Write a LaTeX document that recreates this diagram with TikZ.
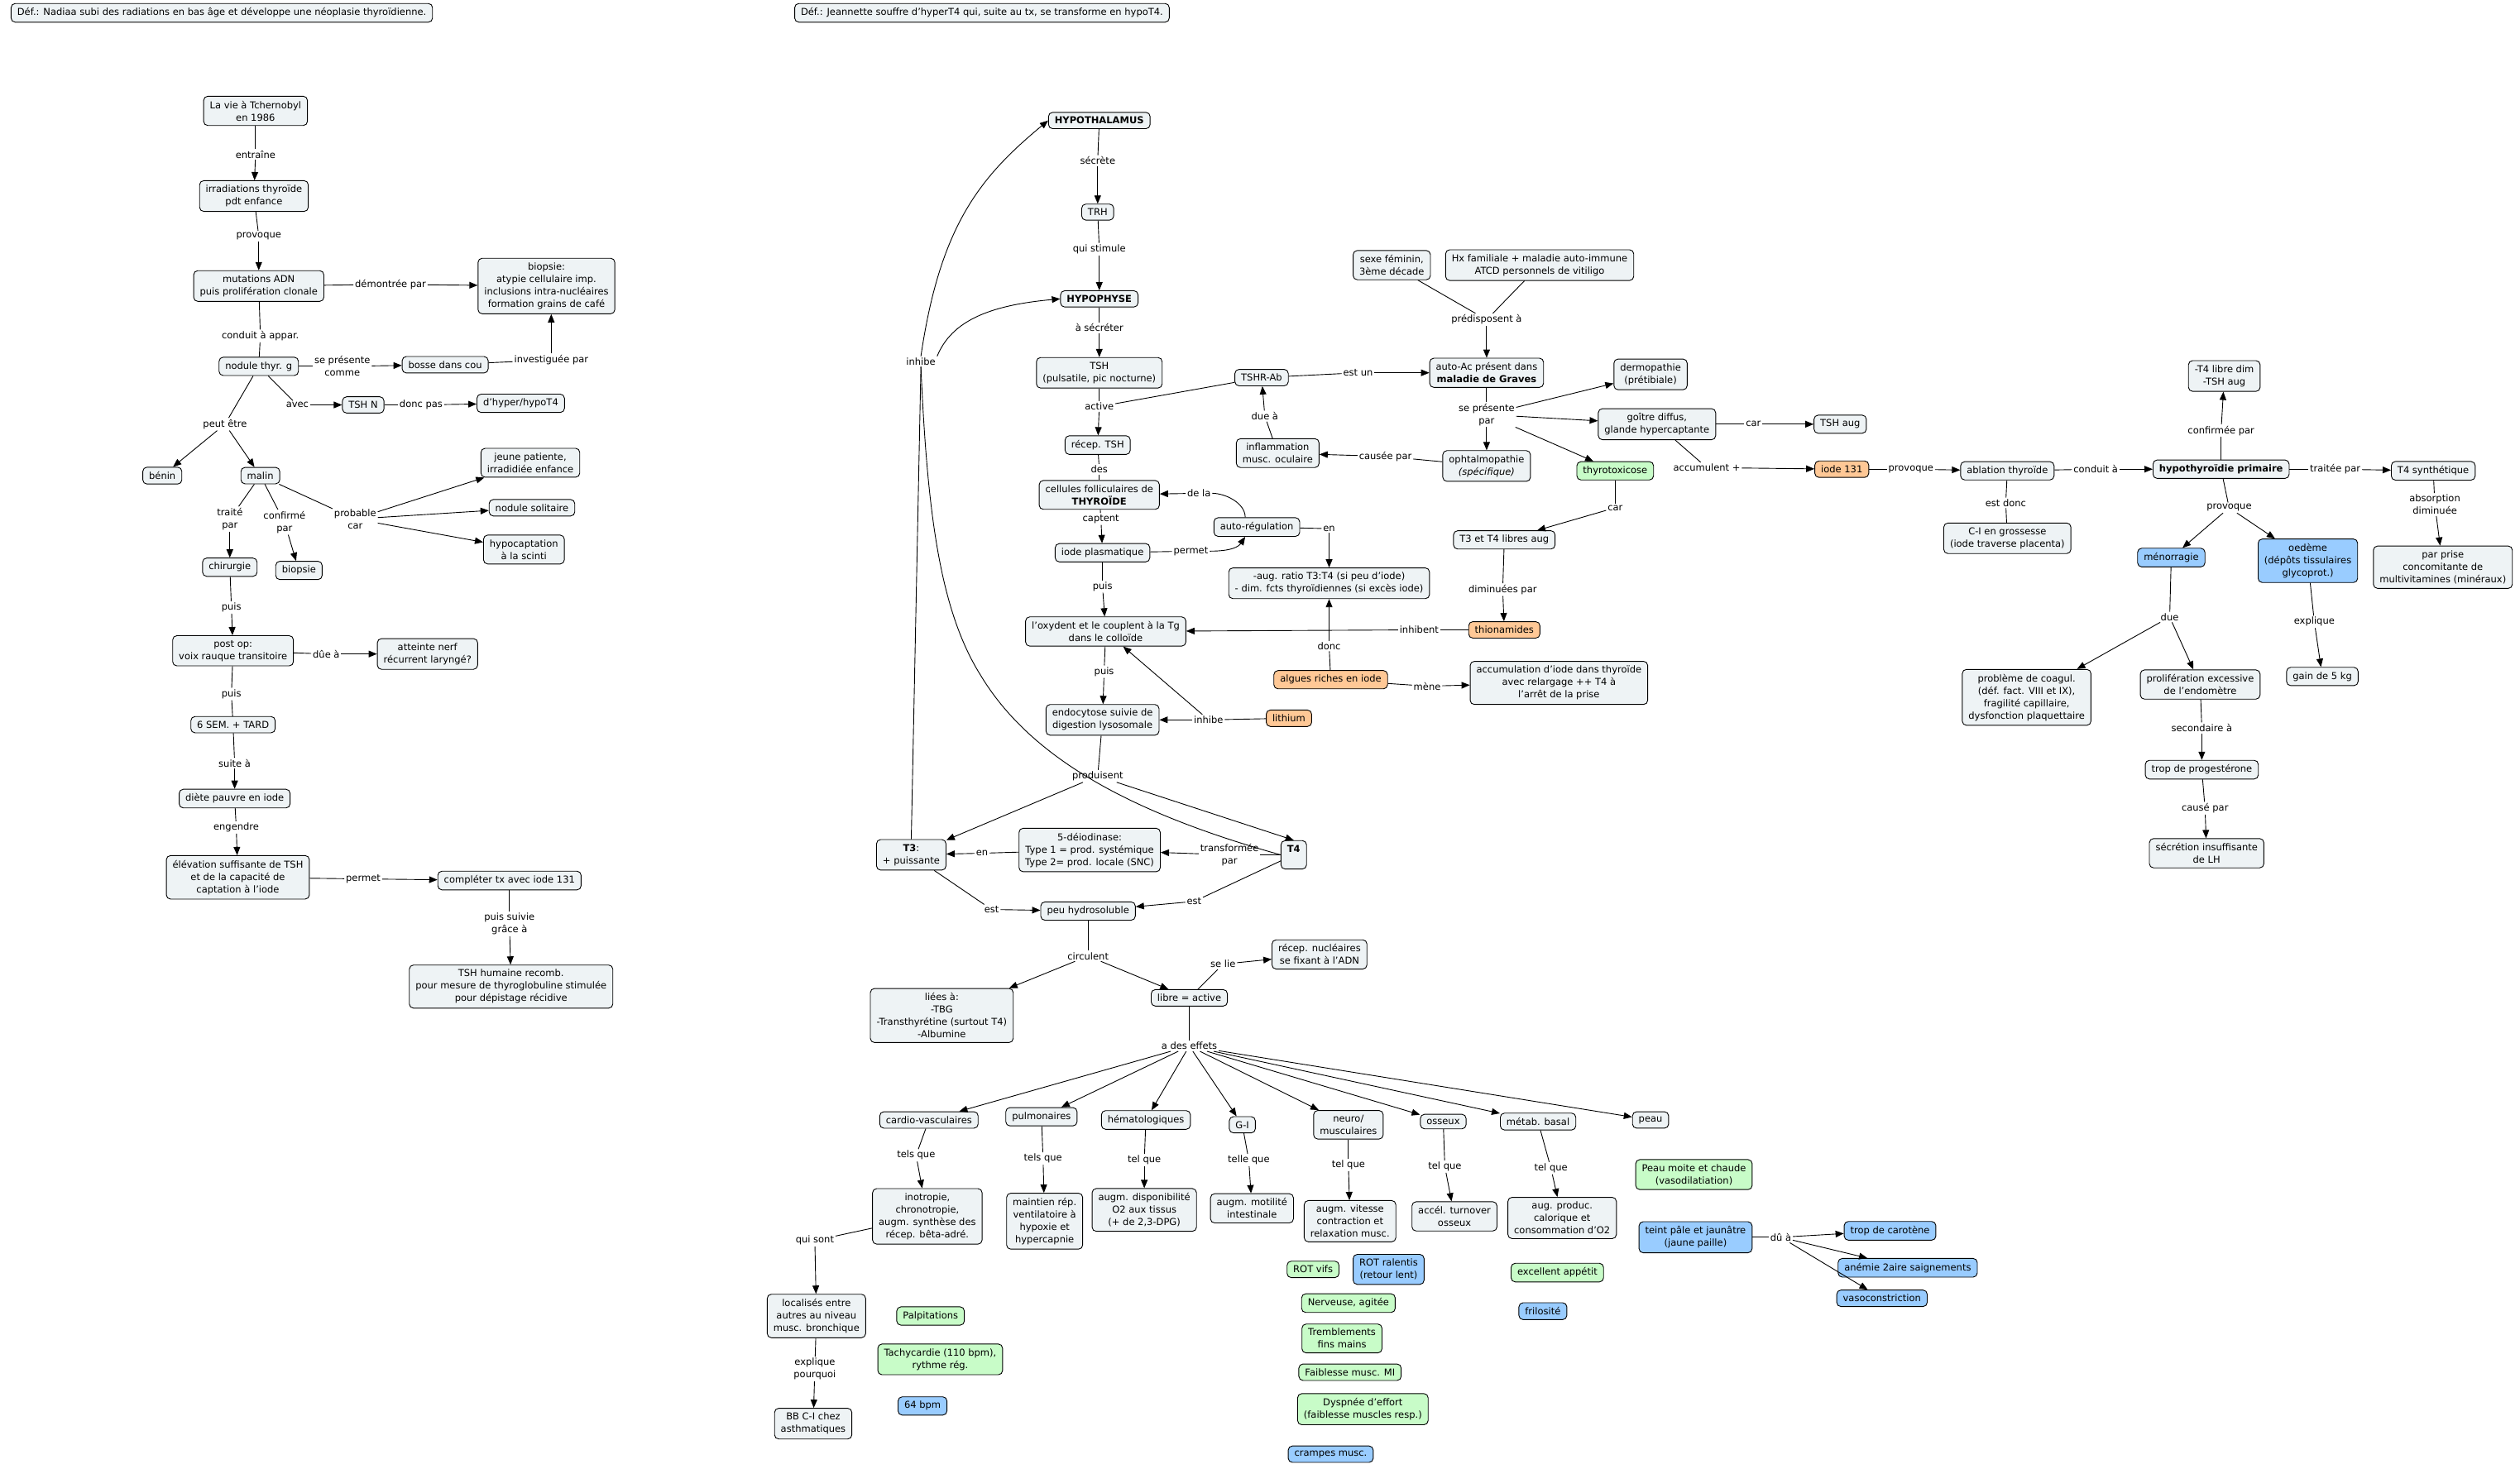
\documentclass[tikz,border=0pt]{standalone}
\usepackage{fontspec}
\setmainfont{DejaVu Sans}
\usetikzlibrary{arrows.meta}
\definecolor{nfill}{HTML}{EEF3F5}
\definecolor{gfill}{HTML}{C8FCC8}
\definecolor{bfill}{HTML}{99CCFF}
\definecolor{ofill}{HTML}{FFC896}
\tikzset{
  cbox/.style={draw, line width=0.9pt, rounded corners=5pt, fill=nfill, align=center,
    inner xsep=7.5pt, inner ysep=5.5pt, font=\fontsize{11.5}{15}\selectfont},
  gbox/.style={cbox, fill=gfill},
  bbox/.style={cbox, fill=bfill},
  obox/.style={cbox, fill=ofill},
  lbl/.style={inner sep=1.5pt, align=center, font=\fontsize{11.5}{15}\selectfont},
  arr/.style={-{Triangle[length=10pt,width=8pt]}},
  every path/.style={line width=0.9pt}
}
\begin{document}
\begin{tikzpicture}[x=1.9426pt, y=-1.9426pt]
\useasboundingbox (0,0) rectangle (1568,914);
\fill[white] (0,0) rectangle (1568,914);

% banners
\node[cbox] (def1) at (138,8) {Déf.: Nadiaa subi des radiations en bas âge et développe une néoplasie thyroïdienne.};
\node[cbox] (def2) at (611,8) {Déf.: Jeannette souffre d'hyperT4 qui, suite au tx, se transforme en hypoT4.};

% left column
\node[cbox] (tcher) at (159,69) {La vie à Tchernobyl\\en 1986};
\node[lbl] (l1) at (159,96) {entraîne};
\node[cbox] (irrad) at (158,122) {irradiations thyroïde\\pdt enfance};
\node[lbl] (l2) at (161,147) {provoque};
\node[cbox] (mut) at (161,178) {mutations ADN\\puis prolifération clonale};
\node[lbl] (l3) at (243,177) {démontrée par};
\node[cbox] (biop1) at (340,178) {biopsie:\\atypie cellulaire imp.\\inclusions intra-nucléaires\\formation grains de café};
\node[lbl] (l4) at (162,209) {conduit à appar.};
\node[cbox] (nod) at (161,228) {nodule thyr. g};
\node[lbl] (l5) at (213,228) {se présente\\comme};
\node[cbox] (bosse) at (277,227) {bosse dans cou};
\node[lbl] (l6) at (343,224) {investiguée par};
\node[lbl] (l7) at (185,252) {avec};
\node[cbox] (tshn) at (226,252) {TSH N};
\node[lbl] (l8) at (262,252) {donc pas};
\node[cbox] (hyper) at (324,251) {d'hyper/hypoT4};
\node[lbl] (l9) at (140,264) {peut être};
\node[cbox] (benin) at (101,296) {bénin};
\node[cbox] (malin) at (162,296) {malin};
\node[cbox] (jeune) at (330,288) {jeune patiente,\\irradidiée enfance};
\node[lbl] (l10) at (143,323) {traité\\par};
\node[lbl] (l11) at (177,325) {confirmé\\par};
\node[lbl] (l12) at (221,323) {probable\\car};
\node[cbox] (nodsol) at (331,316) {nodule solitaire};
\node[cbox] (hypoc) at (326,342) {hypocaptation\\à la scinti};
\node[cbox] (chir) at (143,353) {chirurgie};
\node[cbox] (biop2) at (186,355) {biopsie};
\node[lbl] (l13) at (144,378) {puis};
\node[cbox] (postop) at (145,405) {post op:\\voix rauque transitoire};
\node[lbl] (l14) at (203,407) {dûe à};
\node[cbox] (att) at (266,407) {atteinte nerf\\récurrent laryngé?};
\node[lbl] (l15) at (144,432) {puis};
\node[cbox] (sem) at (145,451) {6 SEM. + TARD};
\node[lbl] (l16) at (146,475) {suite à};
\node[cbox] (diete) at (146,497) {diète pauvre en iode};
\node[lbl] (l17) at (147,515) {engendre};
\node[cbox] (elev) at (148,546) {élévation suffisante de TSH\\et de la capacité de\\captation à l'iode};
\node[lbl] (l18) at (226,547) {permet};
\node[cbox] (compl) at (317,548) {compléter tx avec iode 131};
\node[lbl] (l19) at (317,575) {puis suivie\\grâce à};
\node[cbox] (tshrec) at (318,614) {TSH humaine recomb.\\pour mesure de thyroglobuline stimulée\\pour dépistage récidive};

% center axis
\node[cbox] (hypoth) at (684,75) {\textbf{HYPOTHALAMUS}};
\node[lbl] (c1) at (683,100) {sécrète};
\node[cbox] (trh) at (683,132) {TRH};
\node[lbl] (c2) at (684,155) {qui stimule};
\node[cbox] (hypoph) at (684,186) {\textbf{HYPOPHYSE}};
\node[lbl] (c3) at (684,204) {à sécréter};
\node[cbox] (tsh) at (684,232) {TSH\\(pulsatile, pic nocturne)};
\node[lbl] (c4) at (684,253) {active};
\node[cbox] (recep) at (683,277) {récep. TSH};
\node[lbl] (c5) at (684,292) {des};
\node[cbox] (cell) at (684,308) {cellules folliculaires de\\\textbf{THYROÏDE}};
\node[lbl] (c6) at (685,323) {captent};
\node[cbox] (iodepl) at (686,344) {iode plasmatique};
\node[lbl] (c7) at (686,365) {puis};
\node[cbox] (oxyd) at (688,393) {l'oxydent et le couplent à la Tg\\dans le colloïde};
\node[lbl] (c8) at (687,418) {puis};
\node[cbox] (endo) at (686,448) {endocytose suivie de\\digestion lysosomale};
\node[lbl] (c9) at (683,483) {produisent};
\node[cbox] (t3) at (567,532) {\textbf{T3}:\\+ puissante};
\node[lbl] (c10) at (611,531) {en};
\node[cbox] (deiod) at (678,529) {5-déiodinase:\\Type 1 = prod. systémique\\Type 2= prod. locale (SNC)};
\node[lbl] (c11) at (765,532) {transformée\\par};
\node[cbox] (t4) at (805,532) {\textbf{T4}\\\mbox{}};
\node[lbl] (c12) at (617,566) {est};
\node[cbox] (peu) at (677,567) {peu hydrosoluble};
\node[lbl] (c13) at (743,561) {est};
\node[lbl] (c14) at (677,595) {circulent};
\node[cbox] (liees) at (586,632) {liées à:\\-TBG\\-Transthyrétine (surtout T4)\\-Albumine};
\node[cbox] (libre) at (740,621) {libre = active};
\node[lbl] (c15) at (761,600) {se lie};
\node[cbox] (recnuc) at (821,594) {récep. nucléaires\\se fixant à l'ADN};
\node[lbl] (c16) at (740,651) {a des effets};
\node[lbl] (inh) at (573,225) {inhibe};

% Graves
\node[cbox] (sexe) at (866,165) {sexe féminin,\\3ème décade};
\node[cbox] (hx) at (958,165) {Hx familiale + maladie auto-immune\\ATCD personnels de vitiligo};
\node[lbl] (g1) at (925,199) {prédisposent à};
\node[cbox] (graves) at (925,232) {auto-Ac présent dans\\\textbf{maladie de Graves}};
\node[cbox] (tshrab) at (785,235) {TSHR-Ab};
\node[lbl] (g2) at (845,232) {est un};
\node[lbl] (g3) at (787,259) {due à};
\node[cbox] (inflam) at (795,282) {inflammation\\musc. oculaire};
\node[lbl] (g4) at (862,284) {causée par};
\node[cbox] (ophtal) at (925,290) {ophtalmopathie\\\textit{(spécifique)}};
\node[lbl] (g5) at (925,258) {se présente\\par};
\node[cbox] (derm) at (1027,233) {dermopathie\\(prétibiale)};
\node[cbox] (goitre) at (1031,264) {goître diffus,\\glande hypercaptante};
\node[lbl] (g6) at (1091,264) {car};
\node[cbox] (tshaug) at (1145,264) {TSH aug};
\node[gbox] (thyro) at (1005,293) {thyrotoxicose};
\node[lbl] (g7) at (1062,291) {accumulent +};
\node[obox] (i131) at (1146,292) {iode 131};
\node[lbl] (g8) at (1005,316) {car};
\node[cbox] (t3t4) at (936,336) {T3 et T4 libres aug};
\node[lbl] (g9) at (935,367) {diminuées par};
\node[obox] (thion) at (936,392) {thionamides};
\node[lbl] (g10) at (883,392) {inhibent};
\node[cbox] (autoreg) at (782,328) {auto-régulation};
\node[lbl] (g11) at (746,307) {de la};
\node[lbl] (g12) at (827,329) {en};
\node[lbl] (g13) at (741,343) {permet};
\node[cbox] (aug) at (827,363) {-aug. ratio T3:T4 (si peu d'iode)\\- dim. fcts thyroïdiennes (si excès iode)};
\node[lbl] (g14) at (827,402) {donc};
\node[obox] (algues) at (828,423) {algues riches en iode};
\node[lbl] (g15) at (888,427) {mène};
\node[cbox] (accum) at (970,425) {accumulation d'iode dans thyroïde\\avec relargage ++ T4 à\\l'arrêt de la prise};
\node[lbl] (g16) at (752,448) {inhibe};
\node[obox] (lith) at (802,447) {lithium};

% right
\node[lbl] (r1) at (1189,292) {provoque};
\node[cbox] (abl) at (1249,293) {ablation thyroïde};
\node[lbl] (r2) at (1304,292) {conduit à};
\node[lbl] (r3) at (1248,313) {est donc};
\node[cbox] (ci) at (1249,335) {C-I en grossesse\\(iode traverse placenta)};
\node[cbox] (hypo) at (1382,292) {\textbf{hypothyroïdie primaire}};
\node[lbl] (r4) at (1382,268) {confirmée par};
\node[cbox] (t4dim) at (1384,234) {-T4 libre dim\\-TSH aug};
\node[lbl] (r5) at (1453,292) {traitée par};
\node[cbox] (t4s) at (1514,293) {T4 synthétique};
\node[lbl] (r6) at (1515,314) {absorption\\diminuée};
\node[cbox] (prise) at (1520,353) {par prise\\concomitante de\\multivitamines (minéraux)};
\node[lbl] (r7) at (1387,316) {provoque};
\node[bbox] (menor) at (1351,347) {ménorragie};
\node[bbox] (oed) at (1436,349) {oedème\\(dépôts tissulaires\\glycoprot.)};
\node[lbl] (r8) at (1350,384) {due};
\node[lbl] (r9) at (1440,387) {explique};
\node[cbox] (gain) at (1445,421) {gain de 5 kg};
\node[cbox] (coag) at (1261,434) {problème de coagul.\\(déf. fact. VIII et IX),\\fragilité capillaire,\\dysfonction plaquettaire};
\node[cbox] (prolif) at (1369,426) {prolifération excessive\\de l'endomètre};
\node[lbl] (r10) at (1370,453) {secondaire à};
\node[cbox] (prog) at (1370,479) {trop de progestérone};
\node[lbl] (r11) at (1372,503) {causé par};
\node[cbox] (lh) at (1373,531) {sécrétion insuffisante\\de LH};

% effects
\node[cbox] (cardio) at (578,697) {cardio-vasculaires};
\node[cbox] (pulmo) at (648,695) {pulmonaires};
\node[cbox] (hemato) at (713,697) {hématologiques};
\node[cbox] (gi) at (773,700) {G-I};
\node[cbox] (neuro) at (839,700) {neuro/\\musculaires};
\node[cbox] (oss) at (898,698) {osseux};
\node[cbox] (metab) at (957,698) {métab. basal};
\node[cbox] (peau) at (1027,697) {peau};
\node[lbl] (e1) at (570,719) {tels que};
\node[lbl] (e2) at (649,721) {tels que};
\node[lbl] (e3) at (712,722) {tel que};
\node[lbl] (e4) at (777,722) {telle que};
\node[lbl] (e5) at (839,725) {tel que};
\node[lbl] (e6) at (899,726) {tel que};
\node[lbl] (e7) at (965,727) {tel que};
\node[cbox] (inot) at (577,757) {inotropie,\\chronotropie,\\augm. synthèse des\\récep. bêta-adré.};
\node[cbox] (maint) at (650,760) {maintien rép.\\ventilatoire à\\hypoxie et\\hypercapnie};
\node[cbox] (dispo) at (712,753) {augm. disponibilité\\O2 aux tissus\\(+ de 2,3-DPG)};
\node[cbox] (motil) at (779,752) {augm. motilité\\intestinale};
\node[cbox] (vit) at (840,760) {augm. vitesse\\contraction et\\relaxation musc.};
\node[cbox] (turn) at (905,757) {accél. turnover\\osseux};
\node[cbox] (prod) at (972,758) {aug. produc.\\calorique et\\consommation d'O2};

\node[gbox] (peaum) at (1054,731) {Peau moite et chaude\\(vasodilatiation)};
\node[bbox] (teint) at (1055,770) {teint pâle et jaunâtre\\(jaune paille)};
\node[lbl] (p1) at (1108,770) {dû à};
\node[bbox] (carot) at (1176,766) {trop de carotène};
\node[bbox] (anem) at (1187,789) {anémie 2aire saignements};
\node[bbox] (vaso) at (1171,808) {vasoconstriction};

\node[gbox] (rotv) at (817,790) {ROT vifs};
\node[bbox] (rotr) at (864,790) {ROT ralentis\\(retour lent)};
\node[gbox] (nerv) at (839,811) {Nerveuse, agitée};
\node[gbox] (tremb) at (835,833) {Tremblements\\fins mains};
\node[gbox] (faib) at (840,854) {Faiblesse musc. MI};
\node[gbox] (dysp) at (848,877) {Dyspnée d'effort\\(faiblesse muscles resp.)};
\node[bbox] (cramp) at (828,905) {crampes musc.};
\node[gbox] (app) at (969,792) {excellent appétit};
\node[bbox] (fril) at (960,816) {frilosité};

\node[lbl] (e8) at (507,772) {qui sont};
\node[cbox] (local) at (508,819) {localisés entre\\autres au niveau\\musc. bronchique};
\node[lbl] (e9) at (507,852) {explique\\pourquoi};
\node[cbox] (bb) at (506,886) {BB C-I chez\\asthmatiques};
\node[gbox] (palp) at (579,819) {Palpitations};
\node[gbox] (tachy) at (585,846) {Tachycardie (110 bpm),\\rythme rég.};
\node[bbox] (bpm) at (574,875) {64 bpm};

% ---- connectors: left
\draw (tcher) -- (l1); \draw[arr] (l1) -- (irrad);
\draw (irrad) -- (l2); \draw[arr] (l2) -- (mut);
\draw (mut) -- (l3); \draw[arr] (l3) -- (biop1);
\draw (mut) -- (l4); \draw (l4) -- (nod);
\draw (nod) -- (l5); \draw[arr] (l5) -- (bosse);
\draw (bosse) -- (l6); \draw[arr] (l6.north) -- (l6.north |- biop1.south);
\draw (nod) -- (l7); \draw[arr] (l7) -- (tshn);
\draw (tshn) -- (l8); \draw[arr] (l8) -- (hyper);
\draw (nod) -- (l9); \draw[arr] (l9) -- (benin); \draw[arr] (l9) -- (malin);
\draw (malin) -- (l10); \draw[arr] (l10) -- (chir);
\draw (malin) -- (l11); \draw[arr] (l11) -- (biop2);
\draw (malin) -- (l12); \draw[arr] (l12) -- (jeune); \draw[arr] (l12) -- (nodsol); \draw[arr] (l12) -- (hypoc);
\draw (chir) -- (l13); \draw[arr] (l13) -- (postop);
\draw (postop) -- (l14); \draw[arr] (l14) -- (att);
\draw (postop) -- (l15); \draw (l15) -- (sem);
\draw (sem) -- (l16); \draw[arr] (l16) -- (diete);
\draw (diete) -- (l17); \draw[arr] (l17) -- (elev);
\draw (elev) -- (l18); \draw[arr] (l18) -- (compl);
\draw (compl) -- (l19); \draw[arr] (l19) -- (tshrec);

% ---- connectors: center
\draw (hypoth) -- (c1); \draw[arr] (c1) -- (trh);
\draw (trh) -- (c2); \draw[arr] (c2) -- (hypoph);
\draw (hypoph) -- (c3); \draw[arr] (c3) -- (tsh);
\draw (tsh) -- (c4); \draw[arr] (c4) -- (recep);
\draw (tshrab) -- (c4);
\draw (recep) -- (c5); \draw (c5) -- (cell);
\draw (cell) -- (c6); \draw[arr] (c6) -- (iodepl);
\draw (iodepl) -- (c7); \draw[arr] (c7) -- (oxyd);
\draw (oxyd) -- (c8); \draw[arr] (c8) -- (endo);
\draw (endo) -- (c9); \draw[arr] (c9) -- (t3); \draw[arr] (c9) -- (t4.north);
\draw (t4) -- (c11); \draw[arr] (c11) -- (deiod);
\draw (deiod) -- (c10); \draw[arr] (c10) -- (t3);
\draw (t3) -- (c12); \draw[arr] (c12) -- (peu);
\draw (t4) -- (c13); \draw[arr] (c13) -- (peu);
\draw (peu) -- (c14); \draw[arr] (c14) -- (liees); \draw[arr] (c14) -- (libre);
\draw (libre) -- (c15); \draw[arr] (c15) -- (recnuc);
\draw (libre) -- (c16);
\foreach \n in {cardio,pulmo,hemato,gi,neuro,oss,metab,peau} {\draw[arr] (c16) -- (\n);}
\draw (cardio) -- (e1); \draw[arr] (e1) -- (inot);
\draw (pulmo) -- (e2); \draw[arr] (e2) -- (maint);
\draw (hemato) -- (e3); \draw[arr] (e3) -- (dispo);
\draw (gi) -- (e4); \draw[arr] (e4) -- (motil);
\draw (neuro) -- (e5); \draw[arr] (e5) -- (vit);
\draw (oss) -- (e6); \draw[arr] (e6) -- (turn);
\draw (metab) -- (e7); \draw[arr] (e7) -- (prod);
\draw (inot) -- (e8); \draw[arr] (e8) -- (local);
\draw (local) -- (e9); \draw[arr] (e9) -- (bb);
\draw (teint) -- (p1); \draw[arr] (p1) -- (carot); \draw[arr] (p1) -- (anem); \draw[arr] (p1) -- (vaso);

% inhibe feedback
\draw (t3.north) -- (inh.south);
\draw (t4.west) .. controls (700,505) and (640,470) .. (610,420) .. controls (585,380) and (577,320) .. (inh.south);
\draw[arr] (inh.north) .. controls (585,140) and (610,110) .. (hypoth.west);
\draw[arr] (inh.north east) .. controls (592,200) and (615,190) .. (hypoph.west);

% Graves
\draw (sexe) -- (g1); \draw (hx) -- (g1); \draw[arr] (g1) -- (graves);
\draw (tshrab) -- (g2); \draw[arr] (g2) -- (graves);
\draw (inflam) -- (g3); \draw[arr] (g3) -- (tshrab);
\draw (ophtal) -- (g4); \draw[arr] (g4) -- (inflam);
\draw (graves) -- (g5);
\draw[arr] (g5) -- (derm); \draw[arr] (g5) -- (goitre); \draw[arr] (g5) -- (ophtal); \draw[arr] (g5) -- (thyro);
\draw (goitre) -- (g6); \draw[arr] (g6) -- (tshaug);
\draw (goitre) -- (g7); \draw[arr] (g7) -- (i131);
\draw (thyro) -- (g8); \draw[arr] (g8) -- (t3t4);
\draw (t3t4) -- (g9); \draw[arr] (g9) -- (thion);
\draw (thion) -- (g10); \draw[arr] (g10) -- (oxyd);
\draw ([xshift=-14pt]autoreg.north) .. controls +(0,-9) and +(8,0) .. (g11.east); \draw[arr] (g11) -- (cell);
\draw (autoreg) -- (g12); \draw[arr] (g12) -- (aug);
\draw (iodepl) -- (g13); \draw[arr] (g13.east) .. controls +(14,0) and +(-4,6) .. ([xshift=-14pt]autoreg.south);
\draw (algues) -- (g14); \draw[arr] (g14) -- (aug);
\draw (algues) -- (g15); \draw[arr] (g15) -- (accum);
\draw (lith) -- (g16); \draw[arr] (g16) -- (endo); \draw[arr] (g16) -- (oxyd);

% right
\draw (i131) -- (r1); \draw[arr] (r1) -- (abl);
\draw (abl) -- (r2); \draw[arr] (r2) -- (hypo);
\draw (abl) -- (r3); \draw (r3) -- (ci);
\draw (hypo) -- (r4); \draw[arr] (r4) -- (t4dim);
\draw (hypo) -- (r5); \draw[arr] (r5) -- (t4s);
\draw (t4s) -- (r6); \draw[arr] (r6) -- (prise);
\draw (hypo) -- (r7); \draw[arr] (r7) -- (menor); \draw[arr] (r7) -- (oed);
\draw (menor) -- (r8); \draw[arr] (r8) -- (coag); \draw[arr] (r8) -- (prolif);
\draw (oed) -- (r9); \draw[arr] (r9) -- (gain);
\draw (prolif) -- (r10); \draw[arr] (r10) -- (prog);
\draw (prog) -- (r11); \draw[arr] (r11) -- (lh);
\end{tikzpicture}
\end{document}
